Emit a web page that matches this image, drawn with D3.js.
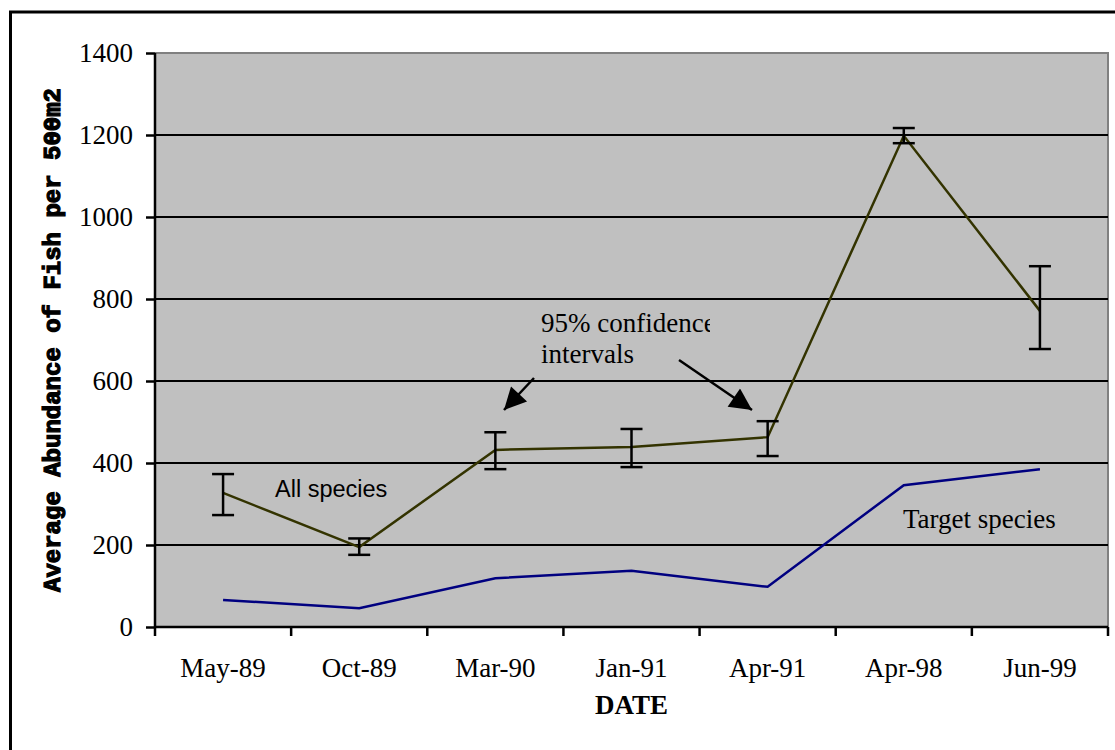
<!DOCTYPE html>
<html><head><meta charset="utf-8">
<script src="https://cdn.jsdelivr.net/npm/d3@7/dist/d3.min.js"></script>
<style>body{margin:0;background:#fff;}svg{display:block;}
.serif{font-family:"Liberation Serif","Times New Roman",serif;}
</style>
</head><body><svg id="c" width="1115" height="750"></svg>
<script>
const categories = ["May-89","Oct-89","Mar-90","Jan-91","Apr-91","Apr-98","Jun-99"];
const allSpecies = [327,195,432,439,463,1198,771];
const allLow  = [273,176,385,390,417,1180,678];
const allHigh = [373,216,475,483,502,1217,880];
const targetSpecies = [66,46,119,137,98,346,385];
const yTicks = [0,200,400,600,800,1000,1200,1400];

const svg = d3.select("#c");
const L=155, T=53, R=1108, B=627;
const x = d3.scaleBand().domain(categories).range([L,R]);
const y = d3.scaleLinear().domain([0,1400]).range([B,T]);
const cx = d => x(d)+x.bandwidth()/2;

// outer border
svg.append("rect").attr("x",10.5).attr("y",12).attr("width",1200).attr("height",800)
  .attr("fill","none").attr("stroke","#000").attr("stroke-width",3);

// plot area
svg.append("rect").attr("x",L).attr("y",T).attr("width",R-L).attr("height",B-T).attr("fill","#c0c0c0");
svg.append("path").attr("d",`M${L},${T}H${R}V${B}`).attr("fill","none").attr("stroke","#808080").attr("stroke-width",2);

// gridlines
svg.append("g").selectAll("line").data(yTicks.filter(v=>v>0 && v<1400)).join("line")
  .attr("x1",L).attr("x2",R).attr("y1",d=>y(d)).attr("y2",d=>y(d))
  .attr("stroke","#000").attr("stroke-width",2);

// y axis
const ya = svg.append("g").attr("transform",`translate(${L},0)`)
  .call(d3.axisLeft(y).tickValues(yTicks).tickSize(9).tickPadding(13).tickFormat(d3.format("d")));
ya.attr("font-family",null).attr("font-size",null);
ya.select(".domain").attr("stroke-width",2.5).attr("d",`M0,${T}V${B}`);
ya.selectAll(".tick line").attr("stroke-width",2.5);
ya.selectAll("text").attr("class","serif").style("font-size","27px").attr("fill","#000");

// x axis
const xa = svg.append("g").attr("transform",`translate(0,${B})`)
  .call(d3.axisBottom(x).tickSize(0).tickPadding(31));
xa.attr("font-family",null).attr("font-size",null);
xa.select(".domain").attr("stroke-width",2.5).attr("d",`M${L},0H${R}`);
xa.selectAll("text").attr("class","serif").style("font-size","27px").attr("fill","#000");
const edges = categories.map(c=>x(c)).concat([R]);
svg.append("g").selectAll("line").data(edges).join("line")
  .attr("x1",d=>d).attr("x2",d=>d).attr("y1",B).attr("y2",B+9).attr("stroke","#000").attr("stroke-width",2.5);

// target species line
svg.append("path").datum(targetSpecies).attr("fill","none").attr("stroke","#000080").attr("stroke-width",2.5)
  .attr("d",d3.line().x((d,i)=>cx(categories[i])).y(d=>y(d)));
// all species line
svg.append("path").datum(allSpecies).attr("fill","none").attr("stroke","#333300").attr("stroke-width",2.5)
  .attr("d",d3.line().x((d,i)=>cx(categories[i])).y(d=>y(d)));

// error bars
const eb = svg.append("g").attr("stroke","#000").attr("stroke-width",2.5);
categories.forEach((c,i)=>{
  const xc = cx(c);
  eb.append("line").attr("x1",xc).attr("x2",xc).attr("y1",y(allLow[i])).attr("y2",y(allHigh[i]));
  eb.append("line").attr("x1",xc-11).attr("x2",xc+11).attr("y1",y(allLow[i])).attr("y2",y(allLow[i]));
  eb.append("line").attr("x1",xc-11).attr("x2",xc+11).attr("y1",y(allHigh[i])).attr("y2",y(allHigh[i]));
});

// labels
svg.append("text").attr("x",275).attr("y",497)
  .style("font-family","Arial,'Liberation Sans',sans-serif").style("font-size","23.5px").text("All species");
svg.append("text").attr("x",903).attr("y",528).attr("class","serif").style("font-size","27px").text("Target species");
svg.append("clipPath").attr("id","annclip").append("rect").attr("x",530).attr("y",300).attr("width",180).attr("height",80);
const ann = svg.append("g").attr("clip-path","url(#annclip)");
ann.append("text").attr("x",541).attr("y",332).attr("class","serif").style("font-size","27px").text("95% confidence");
ann.append("text").attr("x",541).attr("y",363).attr("class","serif").style("font-size","27px").text("intervals");

// arrows
svg.append("defs").append("marker").attr("id","ah").attr("viewBox","0 0 10 10").attr("refX",10).attr("refY",5)
  .attr("markerWidth",26).attr("markerHeight",22).attr("markerUnits","userSpaceOnUse").attr("orient","auto")
  .append("path").attr("d","M0,0L10,5L0,10Z").attr("fill","#000");
svg.append("line").attr("x1",534).attr("y1",378).attr("x2",504).attr("y2",410)
  .attr("stroke","#000").attr("stroke-width",2.5).attr("marker-end","url(#ah)");
svg.append("line").attr("x1",679).attr("y1",360).attr("x2",752).attr("y2",410)
  .attr("stroke","#000").attr("stroke-width",2.5).attr("marker-end","url(#ah)");

// axis titles
svg.append("text").attr("x",(L+R)/2).attr("y",714).attr("text-anchor","middle").attr("class","serif")
  .style("font-weight","bold").style("font-size","27px").text("DATE");
svg.append("text").attr("transform",`translate(60,340) rotate(-90)`).attr("text-anchor","middle")
  .style("font-family","'Liberation Mono','Courier New',monospace").style("font-weight","bold").style("font-size","23px")
  .attr("stroke","#000").attr("stroke-width",1.2)
  .attr("textLength",504).attr("lengthAdjust","spacingAndGlyphs")
  .text("Average Abundance of Fish per 500m2");
</script></body></html>
